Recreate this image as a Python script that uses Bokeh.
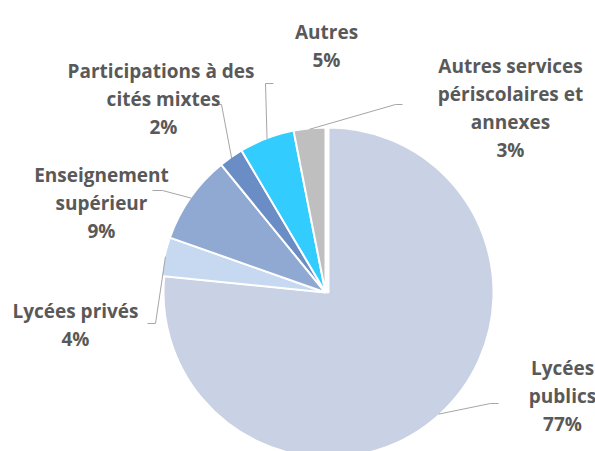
import numpy as np
from bokeh.plotting import figure
from bokeh.models import Range1d
from bokeh.core.properties import value
from bokeh.embed import file_html
from bokeh.resources import INLINE

# ---- data (clockwise from 12 o'clock) ----
categories = ["Lycées publics", "Lycées privés", "Enseignement supérieur",
              "Participations à des cités mixtes", "Autres",
              "Autres services périscolaires et annexes"]
shares = [76.6, 3.8, 8.7, 2.4, 5.4, 3.1]
label_lines = [["Lycées", "publics"], ["Lycées privés"], ["Enseignement", "supérieur"],
               ["Participations  à des", "cités mixtes"], ["Autres"],
               ["Autres services", "périscolaires et", "annexes"]]
colors = ["#C9D1E4", "#C6D9F1", "#8FA9D2", "#6A8DC6", "#33CCFF", "#BFBFBF"]

# ---- layout (image pixel coords, y down) ----
W, H = 595, 451
CX, CY, R = 325, 292, 165
explode = [(3, 0), (0, 0), (0, 0), (0, 0), (0, 0), (0, 0)]
# label: centre x, baseline of first line, line step
label_pos = [(562, 367), (75, 310), (101, 174), (163, 70), (326, 31), (510, 65)]
LINE_STEP = 28
# leader lines: label-side end, elbow (pie-side end computed from slice angle)
leader_pts = [((498, 403), (490, 403)), ((147, 323), (155, 323)),
              ((152, 190), (162, 190)), ((213, 104), (221, 104)),
              ((273, 83), (265, 83)), ((402, 104), (395, 104))]

def fy(y):
    return H - y

p = figure(width=W, height=H, output_backend="svg", toolbar_location=None,
           x_range=Range1d(0, W), y_range=Range1d(0, H),
           min_border=0)
p.axis.visible = False
p.grid.visible = False
p.outline_line_color = None
p.background_fill_color = "white"

vals = np.array(shares, dtype=float)
frac = vals / vals.sum()
cum = np.concatenate([[0], np.cumsum(frac)])
font = value("Open Sans")
text_color = "#595959"

for i, cat in enumerate(categories):
    a_end = np.pi / 2 - 2 * np.pi * cum[i]
    a_start = np.pi / 2 - 2 * np.pi * cum[i + 1]
    ox, oy = explode[i]
    cx, cy = CX + ox, fy(CY + oy)
    p.wedge(x=cx, y=cy, radius=R, start_angle=a_start, end_angle=a_end,
            direction="anticlock", fill_color=colors[i], line_color="white",
            line_width=2)
    # leader line
    mid = (a_start + a_end) / 2
    ex, ey = cx + (R - 1) * np.cos(mid), cy + (R - 1) * np.sin(mid)
    (lx, ly), (bx, by) = leader_pts[i]
    p.line(x=[lx, bx, ex], y=[fy(ly), fy(by), ey], line_color="#A6A6A6", line_width=1)
    # labels
    lines = label_lines[i] + [f"{round(vals[i]):d}%"]
    x0, y0 = label_pos[i]
    for k, t in enumerate(lines):
        p.text(x=[x0], y=[fy(y0 + k * LINE_STEP)], text=[t], text_align="center",
               text_baseline="alphabetic", text_font=font, text_font_style="bold",
               text_font_size="19px", text_color=text_color)

open("out.html", "w").write(file_html(p, INLINE))
